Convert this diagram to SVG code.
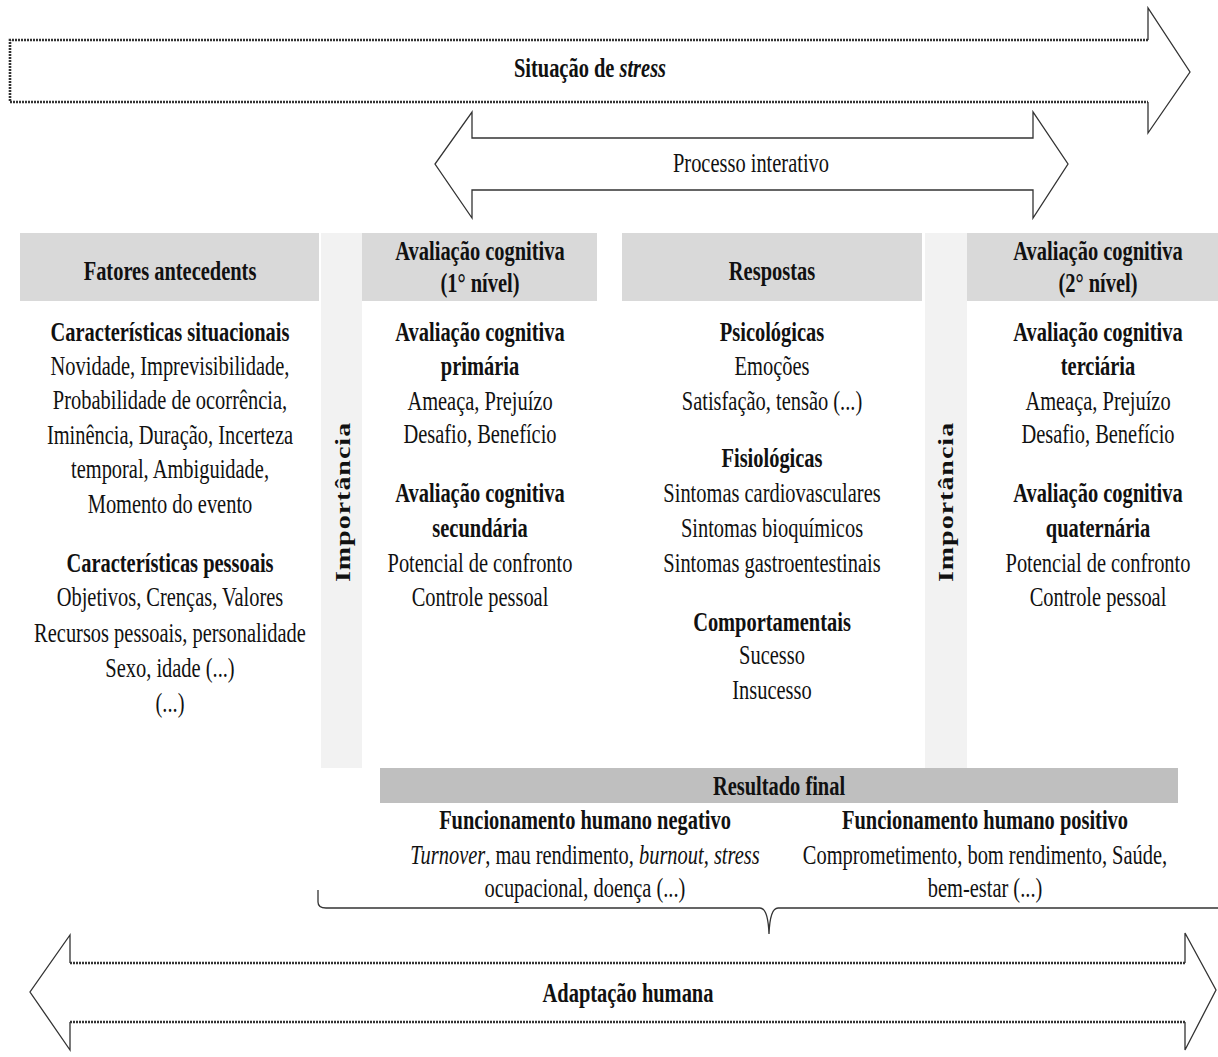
<svg xmlns="http://www.w3.org/2000/svg" width="1218" height="1057" viewBox="0 0 1218 1057">
<style>
.t{font-family:"Liberation Serif","Times New Roman",serif;font-size:28px;fill:#111;text-anchor:middle}
.b{font-weight:bold}
.i{font-style:italic}
.dash{fill:none;stroke:#333;stroke-width:2.6;stroke-dasharray:2 1}
.solid{fill:none;stroke:#333;stroke-width:1.3;stroke-linejoin:miter}
.hdr{fill:#d9d9d9}
.bar{fill:#f2f2f2}
</style>
<rect width="1218" height="1057" fill="#fff"/>

<g id="situacao-stress">
  <path class="dash" d="M1148,40 H10 V102 H1148"/>
  <path class="solid" d="M1148,40 V8 L1190,72 L1148,133 V102"/>
  <g transform="translate(590 0) scale(0.73 1)"><text class="t b" x="0" y="77">Situação de <tspan class="i">stress</tspan></text></g>
</g>

<g id="processo-interativo">
  <path class="solid" d="M472,138 H1033 V112 L1068,164 L1033,218 V190 H472 V218 L435,164 L472,112 Z" stroke-width="1.6"/>
  <g transform="translate(751 0) scale(0.73 1)"><text class="t" x="0" y="172">Processo interativo</text></g>
</g>

<g id="importancia-1">
  <rect class="bar" x="321" y="233" width="41" height="535"/>
  <text class="t b" transform="translate(350 502) scale(0.73 1) rotate(-90)" x="0" y="0" letter-spacing="1">Importância</text>
</g>
<g id="importancia-2">
  <rect class="bar" x="925" y="233" width="42" height="535"/>
  <text class="t b" transform="translate(953 502) scale(0.73 1) rotate(-90)" x="0" y="0" letter-spacing="1">Importância</text>
</g>

<g id="fatores-antecedentes">
  <rect class="hdr" x="20" y="233" width="299" height="68"/>
  <g transform="translate(170 0) scale(0.73 1)">
    <text class="t b" x="0" y="280">Fatores antecedents</text>
    <text class="t b" x="0" y="341">Características situacionais</text>
    <text class="t" x="0" y="375">Novidade, Imprevisibilidade,</text>
    <text class="t" x="0" y="409">Probabilidade de ocorrência,</text>
    <text class="t" x="0" y="444">Iminência, Duração, Incerteza</text>
    <text class="t" x="0" y="478">temporal, Ambiguidade,</text>
    <text class="t" x="0" y="513">Momento do evento</text>
    <text class="t b" x="0" y="572">Características pessoais</text>
    <text class="t" x="0" y="606">Objetivos, Crenças, Valores</text>
    <text class="t" x="0" y="642">Recursos pessoais, personalidade</text>
    <text class="t" x="0" y="677">Sexo, idade (...)</text>
    <text class="t" x="0" y="712">(...)</text>
  </g>
</g>

<g id="avaliacao-1-nivel">
  <rect class="hdr" x="362" y="233" width="235" height="68"/>
  <g transform="translate(480 0) scale(0.73 1)">
    <text class="t b" x="0" y="260">Avaliação cognitiva</text>
    <text class="t b" x="0" y="292">(1° nível)</text>
    <text class="t b" x="0" y="341">Avaliação cognitiva</text>
    <text class="t b" x="0" y="375">primária</text>
    <text class="t" x="0" y="410">Ameaça, Prejuízo</text>
    <text class="t" x="0" y="443">Desafio, Benefício</text>
    <text class="t b" x="0" y="502">Avaliação cognitiva</text>
    <text class="t b" x="0" y="537">secundária</text>
    <text class="t" x="0" y="572">Potencial de confronto</text>
    <text class="t" x="0" y="606">Controle pessoal</text>
  </g>
</g>

<g id="respostas">
  <rect class="hdr" x="622" y="233" width="300" height="68"/>
  <g transform="translate(772 0) scale(0.73 1)">
    <text class="t b" x="0" y="280">Respostas</text>
    <text class="t b" x="0" y="341">Psicológicas</text>
    <text class="t" x="0" y="375">Emoções</text>
    <text class="t" x="0" y="410">Satisfação, tensão (...)</text>
    <text class="t b" x="0" y="467">Fisiológicas</text>
    <text class="t" x="0" y="502">Sintomas cardiovasculares</text>
    <text class="t" x="0" y="537">Sintomas bioquímicos</text>
    <text class="t" x="0" y="572">Sintomas gastroentestinais</text>
    <text class="t b" x="0" y="631">Comportamentais</text>
    <text class="t" x="0" y="664">Sucesso</text>
    <text class="t" x="0" y="699">Insucesso</text>
  </g>
</g>

<g id="avaliacao-2-nivel">
  <rect class="hdr" x="967" y="233" width="251" height="68"/>
  <g transform="translate(1098 0) scale(0.73 1)">
    <text class="t b" x="0" y="260">Avaliação cognitiva</text>
    <text class="t b" x="0" y="292">(2° nível)</text>
    <text class="t b" x="0" y="341">Avaliação cognitiva</text>
    <text class="t b" x="0" y="375">terciária</text>
    <text class="t" x="0" y="410">Ameaça, Prejuízo</text>
    <text class="t" x="0" y="443">Desafio, Benefício</text>
    <text class="t b" x="0" y="502">Avaliação cognitiva</text>
    <text class="t b" x="0" y="537">quaternária</text>
    <text class="t" x="0" y="572">Potencial de confronto</text>
    <text class="t" x="0" y="606">Controle pessoal</text>
  </g>
</g>

<g id="resultado-final">
  <rect x="380" y="768" width="798" height="35" fill="#bfbfbf"/>
  <g transform="translate(779 0) scale(0.73 1)"><text class="t b" x="0" y="795">Resultado final</text></g>
  <g transform="translate(585 0) scale(0.73 1)">
    <text class="t b" x="0" y="829">Funcionamento humano negativo</text>
    <text class="t" x="0" y="864"><tspan class="i">Turnover</tspan>, mau rendimento, <tspan class="i">burnout</tspan>, <tspan class="i">stress</tspan></text>
    <text class="t" x="0" y="897">ocupacional, doença (...)</text>
  </g>
  <g transform="translate(985 0) scale(0.73 1)">
    <text class="t b" x="0" y="829">Funcionamento humano positivo</text>
    <text class="t" x="0" y="864">Comprometimento, bom rendimento, Saúde,</text>
    <text class="t" x="0" y="897">bem-estar (...)</text>
  </g>
</g>

<g id="adaptacao-humana">
  <path class="dash" d="M70,963 H1185 M70,1022 H1185"/>
  <path class="solid" d="M70,963 V935 L30,992 L70,1050 V1022 M1185,963 V933 L1216,990 L1185,1050 V1022"/>
  <g transform="translate(628 0) scale(0.73 1)"><text class="t b" x="0" y="1002">Adaptação humana</text></g>
</g>

<g id="connectors">
  <path class="solid" stroke-width="1.6" d="M318,890 V902 Q318,908 326,908 H760 Q768,908 769,934 Q770,908 778,908 H1218"/>
</g>
</svg>
